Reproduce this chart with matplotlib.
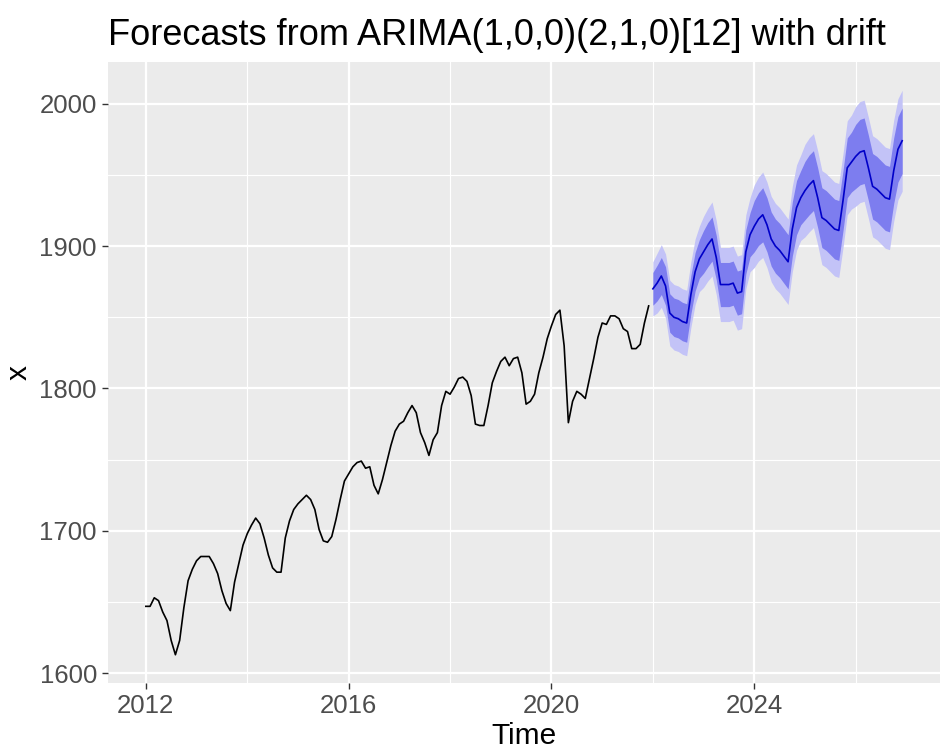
import numpy as np
import matplotlib
matplotlib.use("Agg")
import matplotlib.pyplot as plt
from matplotlib.ticker import MultipleLocator

plt.rcParams["font.family"] = ["Liberation Sans", "DejaVu Sans"]

# monthly observations, Jan 2012 .. Dec 2021
history = [
    1647, 1647, 1653, 1651, 1643, 1637, 1623, 1613, 1623, 1646, 1665, 1673,
    1679, 1682, 1682, 1682, 1677, 1670, 1658, 1649, 1644, 1664, 1677, 1690,
    1698, 1704, 1709, 1705, 1695, 1683, 1674, 1671, 1671, 1695, 1707, 1715,
    1719, 1722, 1725, 1722, 1715, 1701, 1693, 1692, 1696, 1708, 1722, 1735,
    1740, 1745, 1748, 1749, 1744, 1745, 1732, 1726, 1736, 1748, 1760, 1770,
    1775, 1777, 1783, 1788, 1783, 1769, 1762, 1753, 1764, 1769, 1788, 1798,
    1796, 1801, 1807, 1808, 1805, 1795, 1775, 1774, 1774, 1788, 1804, 1812,
    1819, 1822, 1816, 1821, 1822, 1811, 1789, 1791, 1796, 1811, 1822, 1835,
    1844, 1852, 1855, 1830, 1776, 1791, 1798, 1796, 1793, 1807, 1821, 1836,
    1846, 1845, 1851, 1851, 1849, 1842, 1840, 1828, 1828, 1831, 1846, 1858,
]

# point forecasts, Jan 2022 .. Dec 2026
forecast = [
    1870, 1874, 1879, 1872, 1853, 1850, 1849, 1847, 1846, 1866, 1882, 1891,
    1896, 1901, 1905, 1892, 1873, 1873, 1873, 1874, 1867, 1868, 1896, 1908,
    1914, 1919, 1922, 1915, 1905, 1900, 1897, 1893, 1889, 1912, 1927, 1934,
    1939, 1943, 1946, 1934, 1920, 1918, 1915, 1912, 1911, 1932, 1955, 1959,
    1963, 1966, 1967, 1955, 1942, 1940, 1937, 1934, 1933, 1953, 1968, 1974,
]

# half widths of the prediction intervals
half80 = [
    11.5, 12.5, 13, 13.5, 13.5, 13.5, 13.5, 13.5, 13.5, 13.5, 13.5, 13.5,
    15, 15.5, 15.5, 15.5, 15.5, 15.5, 15.5, 15.5, 15.5, 15.5, 15.5, 15.5,
    18, 18.5, 19, 19, 19, 19, 19, 19, 19, 19, 19, 19,
    20.5, 21, 21, 21, 21, 21, 21, 21, 21, 21, 21, 21,
    22.5, 23, 23, 23, 23, 23, 23, 23, 23, 23, 23, 23,
]
half95 = [
    19, 21, 22, 22.5, 23, 23, 23, 23, 23, 23, 23, 23,
    25, 25.5, 26, 26, 26, 26, 26, 26, 26, 26, 26, 26,
    29, 29.5, 30, 30, 30, 30, 30, 30, 30, 30, 30, 30,
    32.5, 33, 33, 33, 33, 33, 33, 33, 33, 33, 33, 33,
    35, 35.5, 35.5, 35.5, 35.5, 35.5, 35.5, 35.5, 35.5, 35.5, 35.5, 35.5,
]

start_year = 2012
x_ticks = [2012, 2016, 2020, 2024]
y_ticks = [1600, 1700, 1800, 1900, 2000]
title = "Forecasts from ARIMA(1,0,0)(2,1,0)[12] with drift"

hist = np.array(history, dtype=float)
fc = np.array(forecast, dtype=float)
h80 = np.array(half80)
h95 = np.array(half95)
t_hist = start_year + np.arange(len(hist)) / 12.0
t_fc = start_year + (len(hist) + np.arange(len(fc))) / 12.0

fig = plt.figure(figsize=(9.45, 7.53), dpi=100)
ax = fig.add_axes([0.1143, 0.093, 0.8804, 0.8247])
ax.set_facecolor("#EBEBEB")
for s in ax.spines.values():
    s.set_visible(False)

# 95% band first, 80% band on top, then the lines
ax.fill_between(t_fc, fc - h95, fc + h95, color="#C3C3F7", linewidth=0, zorder=2)
ax.fill_between(t_fc, fc - h80, fc + h80, color="#7D7DEF", linewidth=0, zorder=3)
ax.plot(t_hist, hist, color="black", linewidth=1.2, zorder=4)
ax.plot(t_fc, fc, color="#0000C8", linewidth=1.2, zorder=4)

ax.margins(x=0.05, y=0.05)
ax.set_xticks(x_ticks)
ax.set_yticks(y_ticks)
ax.xaxis.set_minor_locator(MultipleLocator(2))
ax.yaxis.set_minor_locator(MultipleLocator(50))
ax.grid(which="major", color="white", linewidth=1.6, zorder=0)
ax.grid(which="minor", color="white", linewidth=0.8, zorder=0)
ax.set_axisbelow(True)
ax.tick_params(which="major", length=4, width=1.0, color="#333333",
               labelsize=18.5, labelcolor="#4D4D4D", pad=4)
ax.tick_params(which="minor", length=0)

ax.set_xlabel("Time", fontsize=21.5, labelpad=3)
ax.set_ylabel("x", fontsize=21.5, labelpad=5)
ax.set_title(title, fontsize=26, loc="left", pad=12)

fig.savefig("out.png", dpi=100, facecolor="white")
